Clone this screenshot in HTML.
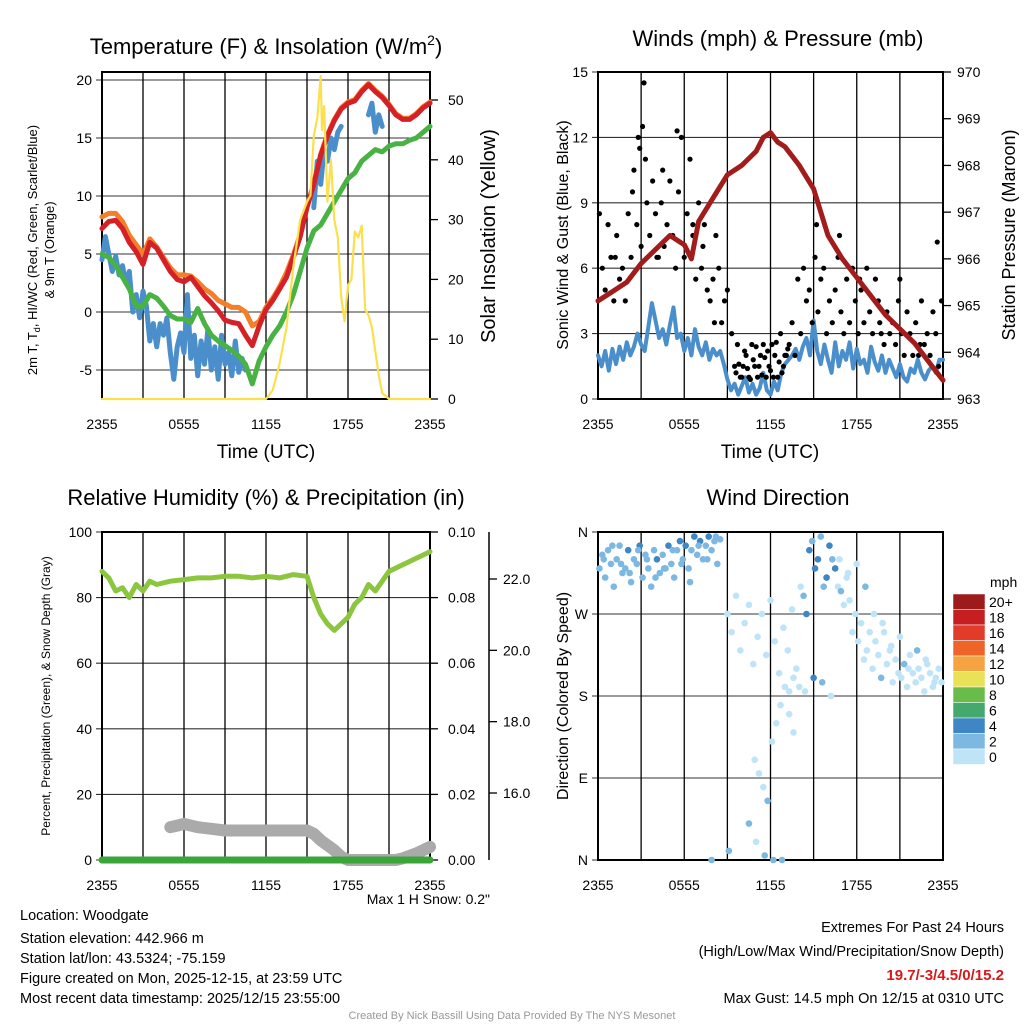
<!DOCTYPE html>
<html><head><meta charset="utf-8"><style>
body{margin:0;background:#fff;}
svg{display:block;font-family:"Liberation Sans",Arial,sans-serif;}
</style></head><body>
<svg id="s" width="1024" height="1024" viewBox="0 0 1024 1024">
<rect width="1024" height="1024" fill="#fff"/>
<g font-size="22" text-anchor="middle" fill="#000">
<text x="266" y="54">Temperature (F) &amp; Insolation (W/m<tspan font-size="14" dy="-9">2</tspan><tspan dy="9">)</tspan></text>
<text x="778" y="46">Winds (mph) &amp; Pressure (mb)</text>
<text x="266" y="505">Relative Humidity (%) &amp; Precipitation (in)</text>
<text x="778" y="505">Wind Direction</text>
</g>
<g font-size="19" text-anchor="middle">
<text x="266" y="458">Time (UTC)</text>
<text x="770" y="458">Time (UTC)</text>
</g>
<text transform="translate(37,250) rotate(-90)" font-size="13" text-anchor="middle">2m T, T<tspan font-size="9" dy="3">d</tspan><tspan dy="-3">, HI/WC (Red, Green, Scarlet/Blue)</tspan></text>
<text transform="translate(54,250) rotate(-90)" font-size="13" text-anchor="middle">&amp; 9m T (Orange)</text>
<text transform="translate(495,236) rotate(-90)" font-size="20" text-anchor="middle">Solar Insolation (Yellow)</text>
<text transform="translate(568,235) rotate(-90)" font-size="16" text-anchor="middle">Sonic Wind &amp; Gust (Blue, Black)</text>
<text transform="translate(1015,235) rotate(-90)" font-size="18" text-anchor="middle">Station Pressure (Maroon)</text>
<text transform="translate(50,696) rotate(-90)" font-size="12" text-anchor="middle">Percent, Precipitation (Green), &amp; Snow Depth (Gray)</text>
<text transform="translate(568,696) rotate(-90)" font-size="16" text-anchor="middle">Direction (Colored By Speed)</text>
<text x="490" y="904" font-size="14" text-anchor="end">Max 1 H Snow: 0.2"</text>
<g font-size="14.5">
<text x="20" y="920">Location: Woodgate</text>
<text x="20" y="943">Station elevation: 442.966 m</text>
<text x="20" y="963">Station lat/lon: 43.5324; -75.159</text>
<text x="20" y="983">Figure created on Mon, 2025-12-15, at 23:59 UTC</text>
<text x="20" y="1003">Most recent data timestamp: 2025/12/15 23:55:00</text>
</g>
<g font-size="14.5" text-anchor="end">
<text x="1004" y="932">Extremes For Past 24 Hours</text>
<text x="1004" y="956">(High/Low/Max Wind/Precipitation/Snow Depth)</text>
<text x="1004" y="980" fill="#d7191c" font-weight="bold" font-size="15">19.7/-3/4.5/0/15.2</text>
<text x="1004" y="1003">Max Gust: 14.5 mph On 12/15 at 0310 UTC</text>
</g>
<text x="512" y="1019" font-size="11" fill="#999" text-anchor="middle">Created By Nick Bassill Using Data Provided By The NYS Mesonet</text>
<g id="g"></g>
</svg>
<script>
// ---- data ----
var tHalf=[0,0.5,1,1.5,2,2.5,3,3.5,4,4.5,5,5.5,6,6.5,7,7.5,8,8.5,9,9.5,10,10.5,11,11.5,12,12.5,13,13.5,14,14.5,15,15.5,16,16.5,17,17.5,18,18.5,19,19.5,20,20.5,21,21.5,22,22.5,23,23.5,24];
var tempRed=[7.2,7.8,7.9,7.2,6.0,5.2,4.1,6.0,5.5,4.5,3.5,2.8,2.6,3.0,2.2,1.4,0.8,0.1,-0.7,-0.9,-1.0,-2.0,-2.9,-1.2,0.2,1.0,2.0,3.0,4.7,6.5,9.0,11.0,13.5,15.2,16.5,17.5,18.0,18.2,19.0,19.6,19.0,18.5,17.8,17.0,16.6,16.6,17.0,17.6,18.0];
var temp9m=[8.2,8.5,8.5,7.8,6.6,5.8,5.0,6.3,5.6,4.7,3.8,3.2,3.2,3.1,2.6,2.0,1.6,1.0,0.7,0.4,0.4,0.0,-1.2,-0.8,0.4,1.2,2.2,3.4,4.9,6.7,9.1,11.1,13.6,15.3,16.6,17.6,18.1,18.3,19.1,19.7,19.1,18.6,17.9,17.1,16.7,16.7,17.1,17.7,18.1];
var dewGreen=[5.0,4.7,4.0,3.0,2.0,0.5,0.5,1.5,1.2,0.5,-0.3,-0.6,-0.6,-0.9,0.3,-1.0,-2.0,-2.5,-2.9,-3.3,-3.8,-4.5,-6.2,-4.2,-3.0,-2.0,-1.2,0.0,1.5,3.5,5.5,7.0,7.5,8.5,9.5,10.5,11.5,12.0,13.0,13.5,14.0,13.8,14.3,14.5,14.5,14.8,15.0,15.5,16.0];
var tQ=[];for(var i=0;i<=96;i++)tQ.push(i/4);
var wcBlue=[4.5,6.5,5.0,3.5,4.8,3.2,4.0,2.5,3.5,0.0,1.5,-0.5,1.8,0.5,-2.5,-1.0,-3.0,-1.0,-2.0,-0.5,-3.5,-5.8,-3.0,-1.8,-3.5,1.5,-4.0,-2.0,-5.5,-2.5,-4.5,-1.5,-5.0,-3.0,-5.8,-2.0,-4.5,-3.5,-5.5,-2.5,-5.2,-4.0,-5.0,null,null,null,null,null,null,null,null,null,null,null,null,null,null,null,null,null,null,null,9.0,13.0,11.0,14.0,13.0,15.0,14.0,15.5,16.0,null,null,null,null,null,null,null,17.0,18.0,15.5,17.0,16.0,null,null,null,null,null,null,null,null,null,null,null,null,null,16.0];
var solarT=[0,12,12.5,13,13.5,14,14.5,15,15.25,15.5,15.75,16,16.1,16.25,16.5,16.75,17,17.25,17.5,17.75,18,18.25,18.5,18.75,19,19.25,19.5,19.75,20,20.25,20.5,21,24];
var solarY=[0,0,1.5,6,12,22,30,33,34,44,47,54,45,49,33,40,30,27,17,13,19,20,28,27,29,15,14,12,8,4,1,0,0];
var windBlue=[2.0,1.5,2.2,1.3,2.3,1.6,2.4,1.8,2.6,2.0,2.4,3.0,
2.5,2.2,3.3,4.4,3.6,2.8,3.2,2.5,3.4,4.2,2.8,3.0,
2.2,2.8,2.0,3.2,2.4,2.0,2.6,1.8,2.3,2.0,2.2,1.6,
0.9,0.4,0.7,0.2,0.6,1.0,0.3,0.7,0.2,0.5,1.2,0.4,
0.2,0.8,0.4,1.2,1.6,1.8,2.0,2.3,1.8,2.4,2.8,2.0,
3.6,2.2,1.6,2.5,1.8,1.2,2.6,1.5,2.2,1.8,2.6,1.4,
2.3,1.6,1.8,1.2,2.4,1.7,1.3,2.0,1.2,1.8,1.4,1.0,
1.6,1.0,0.8,1.4,1.2,1.8,1.2,0.9,1.3,1.5,1.2,1.8,1.8];
var pressT=[0,1,2,3,4,5,6,6.5,7,8,9,10,11,11.5,12,12.5,13,14,15,16,17,18,19,20,21,22,23,24];
var pressY=[965.1,965.3,965.5,965.9,966.2,966.5,966.3,966.0,966.8,967.3,967.8,968.0,968.3,968.6,968.7,968.5,968.4,968.0,967.5,966.5,966.0,965.6,965.2,964.8,964.5,964.2,963.8,963.4];
var gustT=[0.1,0.3,0.5,0.7,0.9,1.1,1.3,1.5,1.7,1.9,2.1,2.3,2.5,2.7,2.9,3.1,3.2,3.4,3.6,3.8,4.0,4.2,4.4,4.6,4.8,5.0,5.2,5.4,5.6,5.8,6.0,6.2,6.4,6.6,6.8,7.0,7.2,7.4,7.6,7.8,8.0,8.2,8.4,8.6,8.8,9.0,9.3,9.5,9.7,9.9,10.1,10.3,10.5,10.7,10.9,11.1,11.3,11.5,11.7,11.9,12.1,12.3,12.5,12.7,12.9,13.1,13.3,13.5,13.7,13.9,14.1,14.3,14.5,14.7,14.9,15.1,15.3,15.5,15.7,15.9,16.1,16.3,16.5,16.7,16.9,17.1,17.3,17.5,17.7,17.9,18.1,18.3,18.5,18.7,18.9,19.1,19.3,19.5,19.7,19.9,20.1,20.3,20.5,20.7,20.9,21.1,21.3,21.5,21.7,21.9,22.1,22.3,22.5,22.7,22.9,23.1,23.3,23.5,23.7,23.9,2.4,3.0,3.3,4.1,4.5,5.5,6.6,7.3,8.1,15.2,16.8,18.2,19.6,21.0,22.4,23.6,1.2,2.8,9.6,9.8,10.0,10.2,10.4,10.6,10.8,11.0,11.2,11.4,11.6,11.8,12.0,12.2,12.4,12.6,12.8,13.0,13.2];
var gustY=[8.5,6.0,5.0,8.0,6.5,4.5,7.5,5.5,6.0,4.5,8.5,6.5,10.5,8.0,11.5,12.5,14.5,9.0,7.5,10.0,8.5,6.5,9.0,7.0,8.0,10.0,7.5,6.0,9.5,12.0,6.5,8.5,11.0,7.5,5.5,9.0,6.0,8.0,5.0,4.5,5.5,7.5,6.0,3.5,4.5,5.0,3.0,1.5,2.5,1.0,1.5,2.0,1.0,2.5,1.5,1.0,2.0,2.5,1.0,1.5,2.5,2.0,1.0,3.0,1.5,2.0,2.5,3.5,2.0,5.5,3.0,6.0,4.5,5.0,3.5,6.5,4.0,5.5,6.0,3.0,4.5,3.5,5.0,6.5,4.0,3.0,5.5,3.5,6.0,4.5,3.0,5.0,3.5,6.0,4.0,3.0,5.5,4.5,3.0,2.5,4.0,3.0,3.5,2.5,4.5,3.0,2.0,4.0,3.0,2.0,3.5,2.0,4.5,2.5,3.0,2.0,4.0,3.0,1.5,4.5,9.5,7.0,11.0,6.5,10.5,12.3,8.0,7.0,3.5,8.0,7.5,5.5,3.5,5.5,2.5,7.2,6.5,12.0,1.2,1.6,1.0,2.2,1.4,0.9,1.8,2.4,1.5,1.1,1.9,2.2,1.3,1.0,2.6,1.7,1.2,2.0,2.3];
var rhT=[0,0.5,1,1.5,2,2.5,3,3.5,4,5,6,7,8,9,10,11,12,13,14,15,15.5,16,16.5,17,17.5,18,18.5,19,19.5,20,20.5,21,22,23,24];
var rhY=[88,86,82,83,80,84,82,85,84,85,85.5,86,86,86.5,86.5,86,86.5,86,87,86.5,80,75,72,70,72,74,78,80,84,82,85,88,90,92,94];
var snowT=[5,5.5,6,7,8,9,10,11,12,13,14,15,15.5,16,17,17.5,18,19,20,21,21.5,22,23,24];
var snowY=[10,10.5,11,10,9.5,9,9,9,9,9,9,9,8,6,3,1,0,0,0,0,0,0.5,2,4];
var precipT=[0,24];
var precipY=[0,0];
var dirT=[0.1,0.3,0.5,0.7,0.9,1.1,1.3,1.5,1.7,1.9,2.1,2.3,2.5,2.7,2.9,3.1,3.3,3.5,3.7,3.9,4.1,4.3,4.5,4.7,4.9,5.1,5.3,5.5,5.7,5.9,6.1,6.3,6.5,6.7,6.9,7.1,7.3,7.5,7.7,7.9,8.1,8.3,8.5,0.4,1.0,1.6,2.2,2.8,3.4,4.0,4.6,5.2,5.8,6.4,7.0,7.6,8.2,9.0,9.3,9.6,9.9,10.2,10.5,10.8,11.1,11.4,11.7,12.0,12.3,12.6,12.9,13.2,13.5,13.8,10.9,11.2,11.5,11.8,12.1,12.4,12.7,13.0,13.3,13.6,10.5,11.0,11.6,12.2,12.8,7.9,9.1,14.1,14.3,14.5,14.7,14.9,15.1,15.3,15.5,15.7,15.9,16.1,16.3,16.5,16.7,16.9,17.1,17.3,17.5,17.7,17.9,18.1,18.3,18.5,18.7,18.9,19.1,19.3,19.5,19.7,19.9,20.1,20.3,20.5,20.7,20.9,21.1,21.3,21.5,21.7,21.9,22.1,22.3,22.5,22.7,22.9,23.1,23.3,23.5,23.7,23.9,14.4,15.0,15.6,16.2,16.8,17.4,18.0,18.6,19.2,19.8,20.4,21.0,21.6,22.2,22.8,23.4,13.3,13.6,14.0];
var dirD=[320,335,310,340,325,300,330,345,315,320,340,305,330,325,345,310,335,320,300,340,330,315,335,320,345,325,310,340,350,330,345,320,340,355,335,350,330,345,355,340,350,325,352,330,345,325,315,340,330,310,320,340,325,305,345,330,355,270,250,290,230,260,280,215,245,270,225,285,240,205,255,230,275,210,110,95,80,65,130,150,170,190,160,140,40,20,5,0,0,0,10,300,290,270,340,350,320,330,355,300,310,345,330,320,300,295,280,310,285,250,270,240,260,220,230,250,210,240,225,200,250,215,230,195,220,205,200,215,190,225,205,195,210,200,185,215,205,190,200,210,195,185,200,195,180,330,315,325,300,270,260,235,245,210,230,220,195,185,200,190,210,205,185,35];
var dirS=[3,3,2,3,3,2,3,3,2,3,4,2,3,3,4,2,3,3,2,3,4,2,3,3,4,3,2,3,4,3,4,3,3,4,3,4,3,3,4,3,3,2,3,2,3,2,2,3,3,2,2,3,3,2,3,3,3,1,1,1,1,1,1,1,1,1,1,1,1,1,1,1,1,1,1,1,1,2,1,1,1,1,1,1,2,1,3,3,2,3,3,1,3,4,4,3,4,4,3,3,4,4,3,4,1,2,1,1,1,1,1,1,1,1,1,1,1,1,1,2,1,1,1,1,1,1,1,2,1,1,1,1,1,1,1,1,1,1,1,1,1,1,4,2,1,1,1,1,3,1,1,1,1,1,2,1,1,1,1,1];
var cbLabels=["20+","18","16","14","12","10","8","6","4","2","0"];
var cbColors=["#9e1b1b","#c51f22","#e23b2a","#ef6429","#f5a441","#e9e158","#68bd4a","#45a86c","#3f86c4","#7cb8e2","#bfe4f8"];

var NS="http://www.w3.org/2000/svg",G=document.getElementById("g");
function mk(tag,a,par){var e=document.createElementNS(NS,tag);for(var k in a)e.setAttribute(k,a[k]);(par||G).appendChild(e);return e;}
function scale(d0,d1,r0,r1){return function(v){return r0+(v-d0)/(d1-d0)*(r1-r0);};}
function pathOf(xs,ys,fx,fy){var d="",pen=false;for(var i=0;i<xs.length;i++){if(ys[i]===null||ys[i]===undefined){pen=false;continue;}d+=(pen?"L":"M")+fx(xs[i]).toFixed(1)+","+fy(ys[i]).toFixed(1);pen=true;}return d;}
function line(xs,ys,fx,fy,col,w,name){var e=mk("path",{d:pathOf(xs,ys,fx,fy),fill:"none",stroke:col,"stroke-width":w,"stroke-linejoin":"round","stroke-linecap":"round"});


return e;}
var xLabels=["2355","0555","1155","1755","2355"],xVals=[0,6,12,18,24];
function frame(x0,x1,y0,y1,fx,ticksL,fyL,labL,nm){
 for(var i=0;i<xVals.length;i++){var e=mk("line",{x1:fx(xVals[i]),x2:fx(xVals[i]),y1:y0,y2:y1,stroke:"#000","stroke-width":1.3});
 
 
 var hx=fx(xVals[i]+3);if(xVals[i]<24){var h=mk("line",{x1:hx,x2:hx,y1:y0,y2:y1,stroke:"#000","stroke-width":1.3});
 
 }
 var t=mk("text",{x:fx(xVals[i]),y:y1+30,"font-size":14,"text-anchor":"middle"});t.textContent=xLabels[i];
 
 }
 for(var j=0;j<ticksL.length;j++){var y=fyL(ticksL[j]);var g=mk("line",{x1:x0-6,x2:x1,y1:y,y2:y,stroke:"#000","stroke-width":1.1,"stroke-opacity":0.8});
 
 
 var t2=mk("text",{x:x0-10,y:y+5,"font-size":14,"text-anchor":"end"});t2.textContent=labL[j];
 
 }
 var b=mk("rect",{x:x0,y:y0,width:x1-x0,height:y1-y0,fill:"none",stroke:"#000","stroke-width":2});
 
 
}
function rightAxis(x,y0,y1,ticks,fy,labs,nm,lx){
 for(var j=0;j<ticks.length;j++){var y=fy(ticks[j]);var l=mk("line",{x1:x,x2:x+8,y1:y,y2:y,stroke:"#000","stroke-width":1.3});
 
 
 var t=mk("text",{x:x+(lx||14),y:y+5,"font-size":14});t.textContent=labs[j];
 
 }
}
// ---- Panel 1 ----
var x1=scale(0,24,102,430),y1L=scale(0,5,312,254),y1R=scale(0,50,399,100);
frame(102,430,72,399,x1,[20,15,10,5,0,-5],y1L,["20","15","10","5","0","-5"],"p1");
rightAxis(430,72,399,[0,10,20,30,40,50],y1R,["0","10","20","30","40","50"],"p1-right",18);
line(tHalf,temp9m,x1,y1L,"#f47e2a",5,"series-9m-temp");
line(tQ,wcBlue,x1,y1L,"#4a8fcb",5,"series-wind-chill");
line(tHalf,dewGreen,x1,y1L,"#48b343",5,"series-dewpoint");
line(tHalf,tempRed,x1,y1L,"#d62027",5,"series-2m-temp");
line(solarT,solarY,x1,y1R,"#fbe04d",2.2,"series-solar");
// ---- Panel 2 ----
var x2=scale(0,24,598,943),y2L=scale(0,15,399,72),y2R=scale(963,970,399,72);
frame(598,943,72,399,x2,[0,3,6,9,12,15],y2L,["0","3","6","9","12","15"],"p2");
rightAxis(943,72,399,[963,964,965,966,967,968,969,970],y2R,["963","964","965","966","967","968","969","970"],"p2-right",14);
line(tQ,windBlue,x2,y2L,"#4a8fcb",4,"series-wind-speed");
for(var i=0;i<gustT.length;i++){var c=mk("circle",{cx:x2(gustT[i]),cy:y2L(gustY[i]),r:2.6,fill:"#000"});

}
line(pressT,pressY,x2,y2R,"#a31c1c",5,"series-pressure");
// ---- Panel 3 ----
var x3=scale(0,24,102,430),y3L=scale(0,100,860,532),y3R=scale(0,0.1,860,532),y3S=scale(16,22,793,579);
frame(102,430,532,860,x3,[0,20,40,60,80,100],y3L,["0","20","40","60","80","100"],"p3");
rightAxis(430,532,860,[0,0.02,0.04,0.06,0.08,0.1],y3R,["0.00","0.02","0.04","0.06","0.08","0.10"],"p3-right",18);
var sa=mk("line",{x1:489,x2:489,y1:532,y2:860,stroke:"#000","stroke-width":1.5});


rightAxis(489,532,860,[16,18,20,22],y3S,["16.0","18.0","20.0","22.0"],"snow-axis",14);
line(snowT,snowY,x3,y3L,"#aaaaaa",12,"series-snow-depth");
line(precipT,precipY,x3,y3R,"#3aa63a",7,"series-precip");
line(rhT,rhY,x3,y3L,"#8cc63e",5,"series-rh");
// ---- Panel 4 ----
var x4=scale(0,24,598,943),y4=scale(0,360,860,532);
frame(598,943,532,860,x4,[0,90,180,270,360],y4,["N","E","S","W","N"],"p4");
function spdColor(s){var idx=10-Math.min(10,Math.floor(s/2));return cbColors[idx];}
for(var i=0;i<dirT.length;i++){var c=mk("circle",{cx:x4(dirT[i]),cy:y4(dirD[i]),r:3.3,fill:spdColor(dirS[i])});

}
// colorbar
var ct=mk("text",{x:990,y:587,"font-size":14});ct.textContent="mph";


for(var k=0;k<cbLabels.length;k++){var yy=594+k*15.5;
var r=mk("rect",{x:953,y:yy,width:32,height:15.5,fill:cbColors[k],stroke:"#fff","stroke-width":0.5});


var t=mk("text",{x:989,y:yy+13,"font-size":14});t.textContent=cbLabels[k];

}
</script>
</body></html>
